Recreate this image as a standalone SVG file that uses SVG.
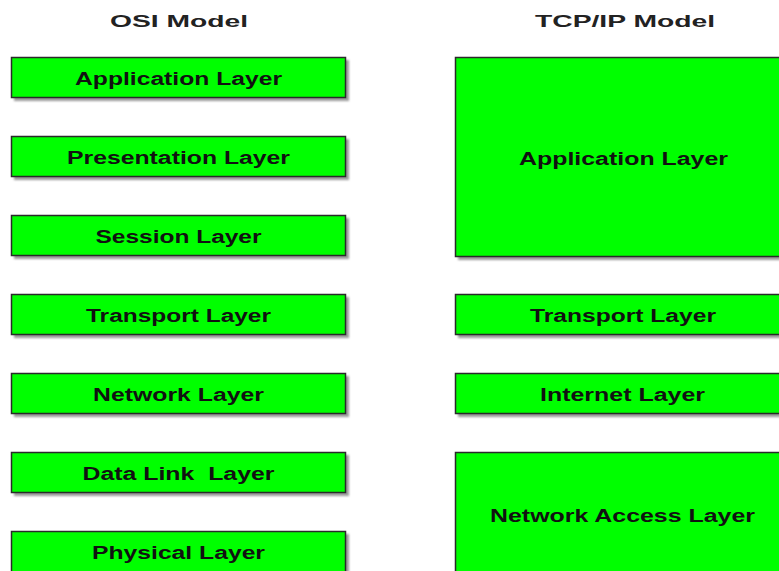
<svg xmlns="http://www.w3.org/2000/svg" width="779" height="571" viewBox="0 0 779 571">
<defs>
<filter id="sh" x="-5%" y="-20%" width="110%" height="140%"><feGaussianBlur stdDeviation="1"/></filter>
</defs>
<style>
.sh{fill:#9a9a9a;filter:url(#sh)}
.bx{fill:#00ff00;stroke:#2a2a2a;stroke-width:1.5}
.lb{font-family:"Liberation Sans",Arial,sans-serif;font-weight:bold;font-size:18px;fill:#111;text-anchor:middle}
.tt{font-family:"Liberation Sans",Arial,sans-serif;font-weight:bold;font-size:17px;fill:#222;text-anchor:middle}
</style>
<rect width="779" height="571" fill="#fff"/>
<g id="titles">
<text class="tt" x="179" y="27" textLength="138" lengthAdjust="spacingAndGlyphs">OSI Model</text>
<text class="tt" x="625" y="27" textLength="180" lengthAdjust="spacingAndGlyphs">TCP/IP Model</text>
</g>
<g id="osi-application"><rect class="sh" x="14" y="60" width="335" height="41"/><rect class="bx" x="11.5" y="57.5" width="334" height="40"/><text class="lb" x="178.5" y="85" textLength="207" lengthAdjust="spacingAndGlyphs">Application Layer</text></g>
<g id="osi-presentation"><rect class="sh" x="14" y="139" width="335" height="41"/><rect class="bx" x="11.5" y="136.5" width="334" height="40"/><text class="lb" x="178.5" y="164" textLength="223" lengthAdjust="spacingAndGlyphs">Presentation Layer</text></g>
<g id="osi-session"><rect class="sh" x="14" y="218" width="335" height="41"/><rect class="bx" x="11.5" y="215.5" width="334" height="40"/><text class="lb" x="178.5" y="243" textLength="166" lengthAdjust="spacingAndGlyphs">Session Layer</text></g>
<g id="osi-transport"><rect class="sh" x="14" y="297" width="335" height="41"/><rect class="bx" x="11.5" y="294.5" width="334" height="40"/><text class="lb" x="178.5" y="322" textLength="185" lengthAdjust="spacingAndGlyphs">Transport Layer</text></g>
<g id="osi-network"><rect class="sh" x="14" y="376" width="335" height="41"/><rect class="bx" x="11.5" y="373.5" width="334" height="40"/><text class="lb" x="178.5" y="401" textLength="171" lengthAdjust="spacingAndGlyphs">Network Layer</text></g>
<g id="osi-datalink"><rect class="sh" x="14" y="455" width="335" height="41"/><rect class="bx" x="11.5" y="452.5" width="334" height="40"/><text class="lb" x="178.5" y="480" textLength="192" lengthAdjust="spacingAndGlyphs" xml:space="preserve">Data Link  Layer</text></g>
<g id="osi-physical"><rect class="sh" x="14" y="534" width="335" height="41"/><rect class="bx" x="11.5" y="531.5" width="334" height="45"/><text class="lb" x="178.5" y="559" textLength="173" lengthAdjust="spacingAndGlyphs">Physical Layer</text></g>
<g id="tcp-application"><rect class="sh" x="458" y="60" width="340" height="200"/><rect class="bx" x="455.5" y="57.5" width="340" height="199"/><text class="lb" x="623.5" y="165" textLength="209" lengthAdjust="spacingAndGlyphs">Application Layer</text></g>
<g id="tcp-transport"><rect class="sh" x="458" y="297" width="340" height="41"/><rect class="bx" x="455.5" y="294.5" width="340" height="40"/><text class="lb" x="623" y="322" textLength="186" lengthAdjust="spacingAndGlyphs">Transport Layer</text></g>
<g id="tcp-internet"><rect class="sh" x="458" y="376" width="340" height="41"/><rect class="bx" x="455.5" y="373.5" width="340" height="40"/><text class="lb" x="622.5" y="401" textLength="165" lengthAdjust="spacingAndGlyphs">Internet Layer</text></g>
<g id="tcp-networkaccess"><rect class="sh" x="458" y="455" width="340" height="130"/><rect class="bx" x="455.5" y="452.5" width="340" height="130"/><text class="lb" x="622.5" y="522" textLength="265" lengthAdjust="spacingAndGlyphs">Network Access Layer</text></g>
<g id="connectors"></g>
</svg>
